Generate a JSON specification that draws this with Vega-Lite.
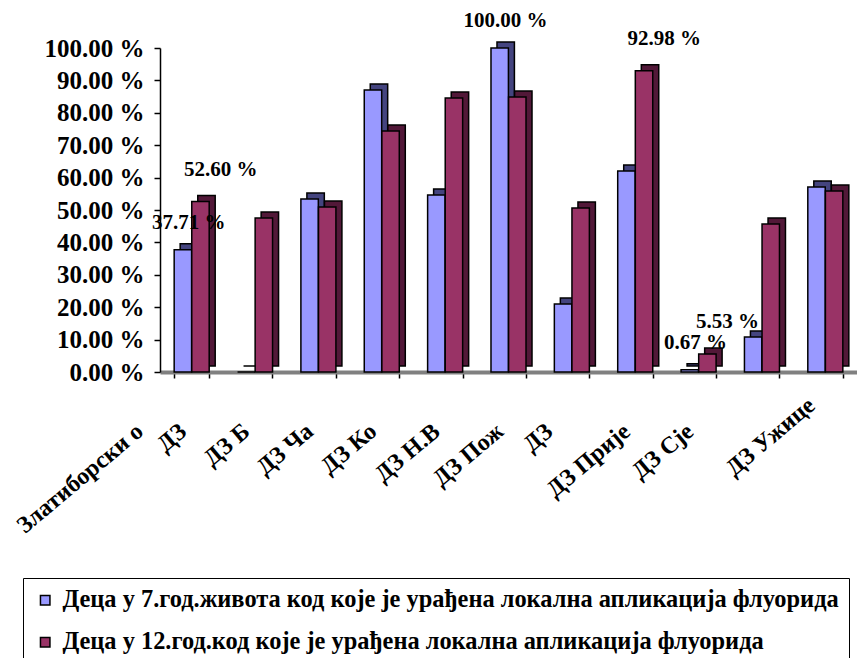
{
  "$schema": "https://vega.github.io/schema/vega-lite/v6.json",
  "width": 697,
  "height": 324,
  "autosize": {"type": "none"},
  "padding": {"left": 160, "top": 48, "right": 0, "bottom": 286},
  "background": "white",
  "config": {"view": {"stroke": null}, "font": "Liberation Serif"},
  "data": {
    "values": [
      {"category": "Златиборски округ", "series": "Деца у 7.год.живота код које је урађена локална апликација флуорида", "value": 37.71, "label": "37.71 %"},
      {"category": "Златиборски округ", "series": "Деца у 12.год.код које је урађена локална апликација флуорида", "value": 52.6, "label": "52.60 %"},
      {"category": "ДЗ Ариље", "series": "Деца у 7.год.живота код које је урађена локална апликација флуорида", "value": 0, "label": ""},
      {"category": "ДЗ Ариље", "series": "Деца у 12.год.код које је урађена локална апликација флуорида", "value": 47.5, "label": ""},
      {"category": "ДЗ Бајина Башта", "series": "Деца у 7.год.живота код које је урађена локална апликација флуорида", "value": 53.4, "label": ""},
      {"category": "ДЗ Бајина Башта", "series": "Деца у 12.год.код које је урађена локална апликација флуорида", "value": 50.9, "label": ""},
      {"category": "ДЗ Чајетина", "series": "Деца у 7.год.живота код које је урађена локална апликација флуорида", "value": 87.0, "label": ""},
      {"category": "ДЗ Чајетина", "series": "Деца у 12.год.код које је урађена локална апликација флуорида", "value": 74.4, "label": ""},
      {"category": "ДЗ Косјерић", "series": "Деца у 7.год.живота код које је урађена локална апликација флуорида", "value": 54.6, "label": ""},
      {"category": "ДЗ Косјерић", "series": "Деца у 12.год.код које је урађена локална апликација флуорида", "value": 84.6, "label": ""},
      {"category": "ДЗ Нова Варош", "series": "Деца у 7.год.живота код које је урађена локална апликација флуорида", "value": 100, "label": "100.00 %"},
      {"category": "ДЗ Нова Варош", "series": "Деца у 12.год.код које је урађена локална апликација флуорида", "value": 84.9, "label": ""},
      {"category": "ДЗ Пожега", "series": "Деца у 7.год.живота код које је урађена локална апликација флуорида", "value": 21.0, "label": ""},
      {"category": "ДЗ Пожега", "series": "Деца у 12.год.код које је урађена локална апликација флуорида", "value": 50.6, "label": ""},
      {"category": "ДЗ Прибој", "series": "Деца у 7.год.живота код које је урађена локална апликација флуорида", "value": 62.0, "label": ""},
      {"category": "ДЗ Прибој", "series": "Деца у 12.год.код које је урађена локална апликација флуорида", "value": 92.98, "label": "92.98 %"},
      {"category": "ДЗ Пријепоље", "series": "Деца у 7.год.живота код које је урађена локална апликација флуорида", "value": 0.67, "label": "0.67 %"},
      {"category": "ДЗ Пријепоље", "series": "Деца у 12.год.код које је урађена локална апликација флуорида", "value": 5.53, "label": "5.53 %"},
      {"category": "ДЗ Сјеница", "series": "Деца у 7.год.живота код које је урађена локална апликација флуорида", "value": 10.8, "label": ""},
      {"category": "ДЗ Сјеница", "series": "Деца у 12.год.код које је урађена локална апликација флуорида", "value": 45.7, "label": ""},
      {"category": "ДЗ Ужице", "series": "Деца у 7.год.живота код које је урађена локална апликација флуорида", "value": 57.1, "label": ""},
      {"category": "ДЗ Ужице", "series": "Деца у 12.год.код које је урађена локална апликација флуорида", "value": 55.9, "label": ""}
    ]
  },
  "encoding": {
    "x": {
      "field": "category",
      "type": "nominal",
      "sort": null,
      "scale": {"paddingInner": 0.45, "paddingOuter": 0.225},
      "axis": {
        "title": null,
        "tickBand": "extent",
        "labelAngle": -40,
        "labelAlign": "right",
        "labelBaseline": "middle",
        "labelFont": "Liberation Serif",
        "labelFontWeight": "bold",
        "labelFontSize": 24,
        "labelColor": "black",
        "labelOverlap": false,
        "labelBound": false,
        "labelLimit": 400,
        "domainColor": "#808080",
        "domainWidth": 4,
        "tickColor": "black",
        "tickSize": 6,
        "tickWidth": 1.5,
        "labelOffset": {
          "condition": [
            {"test": "datum.value == 'ДЗ Ужице'", "value": -14},
            {"test": "datum.value == 'Златиборски округ'", "value": -52},
            {"test": "datum.value == 'ДЗ Прибој'", "value": -86}
          ],
          "value": -72
        },
        "labelPadding": {"condition": {"test": "datum.value == 'ДЗ Ужице'", "value": 24}, "value": 50},
        "labelExpr": "{'Златиборски округ':'Златиборски о','ДЗ Ариље':'ДЗ','ДЗ Бајина Башта':'ДЗ Б','ДЗ Чајетина':'ДЗ Ча','ДЗ Косјерић':'ДЗ Ко','ДЗ Нова Варош':'ДЗ Н.В','ДЗ Пожега':'ДЗ Пож','ДЗ Прибој':'ДЗ','ДЗ Пријепоље':'ДЗ Прије','ДЗ Сјеница':'ДЗ Сје','ДЗ Ужице':'ДЗ Ужице'}[datum.value]"
      }
    },
    "y": {
      "field": "value",
      "type": "quantitative",
      "scale": {"domain": [0, 100], "nice": false},
      "axis": {
        "title": null,
        "values": [0, 10, 20, 30, 40, 50, 60, 70, 80, 90, 100],
        "labelExpr": "format(datum.value, '.2f') + ' %'",
        "grid": false,
        "domainColor": "black",
        "domainWidth": 1.5,
        "tickColor": "black",
        "tickSize": 6,
        "tickWidth": 1.5,
        "labelFont": "Liberation Serif",
        "labelFontWeight": "bold",
        "labelFontSize": 25,
        "labelColor": "black",
        "labelPadding": 10
      }
    }
  },
  "layer": [
    {
      "transform": [{"filter": "datum.series == 'Деца у 7.год.живота код које је урађена локална апликација флуорида'"}],
      "mark": {"type": "bar", "width": {"band": 0.5}, "xOffset": -2.8, "yOffset": -6, "fill": "#44447f", "stroke": "black", "strokeWidth": 1.5}
    },
    {
      "transform": [{"filter": "datum.series == 'Деца у 7.год.живота код које је урађена локална апликација флуорида'"}],
      "mark": {"type": "bar", "width": {"band": 0.5}, "xOffset": -8.8, "stroke": "black", "strokeWidth": 1.5, "opacity": 1},
      "encoding": {
        "color": {
          "field": "series",
          "type": "nominal",
          "scale": {
            "domain": ["Деца у 7.год.живота код које је урађена локална апликација флуорида", "Деца у 12.год.код које је урађена локална апликација флуорида"],
            "range": ["#9999ff", "#993366"]
          },
          "legend": {
            "title": null,
            "orient": "none",
            "legendX": -137,
            "legendY": 530,
            "direction": "vertical",
            "symbolType": "square",
            "symbolSize": 90,
            "symbolStrokeColor": "black",
            "symbolStrokeWidth": 1.5,
            "symbolOpacity": 1,
            "labelFont": "Liberation Serif",
            "labelFontWeight": "bold",
            "labelFontSize": 24.4,
            "labelColor": "black",
            "labelLimit": 1000,
            "labelOffset": 5,
            "rowPadding": 17,
            "padding": 10,
            "strokeColor": "black",
            "cornerRadius": 0
          }
        }
      }
    },
    {
      "transform": [{"filter": "datum.series == 'Деца у 12.год.код које је урађена локална апликација флуорида'"}],
      "mark": {"type": "bar", "width": {"band": 0.5}, "xOffset": 14.8, "yOffset": -6, "fill": "#521838", "stroke": "black", "strokeWidth": 1.5}
    },
    {
      "transform": [{"filter": "datum.series == 'Деца у 12.год.код које је урађена локална апликација флуорида'"}],
      "mark": {"type": "bar", "width": {"band": 0.5}, "xOffset": 8.8, "stroke": "black", "strokeWidth": 1.5, "opacity": 1},
      "encoding": {
        "color": {
          "field": "series",
          "type": "nominal",
          "scale": {
            "domain": ["Деца у 7.год.живота код које је урађена локална апликација флуорида", "Деца у 12.год.код које је урађена локална апликација флуорида"],
            "range": ["#9999ff", "#993366"]
          },
          "legend": {
            "title": null,
            "orient": "none",
            "legendX": -137,
            "legendY": 530,
            "direction": "vertical",
            "symbolType": "square",
            "symbolSize": 90,
            "symbolStrokeColor": "black",
            "symbolStrokeWidth": 1.5,
            "symbolOpacity": 1,
            "labelFont": "Liberation Serif",
            "labelFontWeight": "bold",
            "labelFontSize": 24.4,
            "labelColor": "black",
            "labelLimit": 1000,
            "labelOffset": 5,
            "rowPadding": 17,
            "padding": 10,
            "strokeColor": "black",
            "cornerRadius": 0
          }
        }
      }
    },
    {
      "transform": [{"filter": "datum.label != '' && datum.series == 'Деца у 7.год.живота код које је урађена локална апликација флуорида'"}],
      "mark": {"type": "text", "dx": -3, "dy": -27, "font": "Liberation Serif", "fontWeight": "bold", "fontSize": 21, "color": "black"},
      "encoding": {"text": {"field": "label"}}
    },
    {
      "transform": [{"filter": "datum.label != '' && datum.series == 'Деца у 12.год.код које је урађена локална апликација флуорида'"}],
      "mark": {"type": "text", "dx": 29, "dy": -32, "font": "Liberation Serif", "fontWeight": "bold", "fontSize": 21, "color": "black"},
      "encoding": {"text": {"field": "label"}}
    }
  ]
}
